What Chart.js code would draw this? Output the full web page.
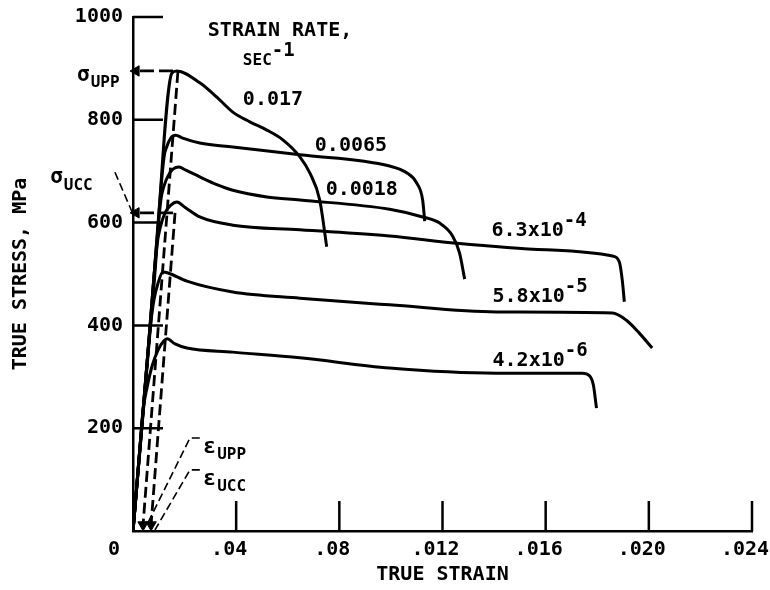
<!DOCTYPE html>
<html>
<head>
<meta charset="utf-8">
<script src="https://cdn.jsdelivr.net/npm/chart.js@4.4.1/dist/chart.umd.min.js"></script>
<style>
  body { margin: 0; background: #fff; }
</style>
</head>
<body>
<canvas id="chart" width="770" height="590"></canvas>
<script>
// true strain / true stress (MPa), one pair per strain rate
var strain017 = [0, 0.00080, 0.00151, 0.00170, 0.00259, 0.00325, 0.00387, 0.00453, 0.00519, 0.00581, 0.00647, 0.00685, 0.00724, 0.00751];
var stress017 = [0, 470, 891, 895, 872, 844, 815, 796, 780, 761, 728, 697, 644, 553];

var strain0065 = [0, 0.00070, 0.00120, 0.00132, 0.00147, 0.00166, 0.00190, 0.00259, 0.00387, 0.00647, 0.00995, 0.01061, 0.01100, 0.01123, 0.01131];
var stress0065 = [0, 420, 726, 749, 765, 770, 765, 755, 747, 732, 710, 697, 677, 644, 603];

var strain0018 = [0, 0.00060, 0.00108, 0.00120, 0.00136, 0.00155, 0.00178, 0.00205, 0.00259, 0.00325, 0.00387, 0.00519, 0.00647, 0.00995, 0.01123, 0.01189, 0.01239, 0.01266, 0.01286];
var stress0018 = [0, 360, 644, 671, 691, 704, 708, 702, 689, 674, 663, 650, 644, 626, 611, 599, 574, 541, 490];

var strain63e4 = [0, 0.00055, 0.00093, 0.00105, 0.00124, 0.00147, 0.00170, 0.00201, 0.00259, 0.00387, 0.00647, 0.00995, 0.01255, 0.01603, 0.01859, 0.01886, 0.01897, 0.01905];
var stress63e4 = [0, 330, 556, 589, 619, 634, 640, 630, 611, 595, 586, 574, 560, 547, 535, 523, 488, 446];

var strain58e5 = [0, 0.00040, 0.00066, 0.00081, 0.00097, 0.00116, 0.00136, 0.00209, 0.00387, 0.00647, 0.00995, 0.01409, 0.01859, 0.01913, 0.01963, 0.02013];
var stress58e5 = [0, 235, 391, 449, 482, 504, 502, 486, 465, 453, 440, 426, 424, 410, 385, 356];

var strain42e6 = [0, 0.00025, 0.00039, 0.00054, 0.00074, 0.00097, 0.00120, 0.00132, 0.00163, 0.00209, 0.00387, 0.00647, 0.00995, 0.01409, 0.01742, 0.01770, 0.01785, 0.01793, 0.01797];
var stress42e6 = [0, 150, 235, 278, 321, 352, 370, 374, 364, 356, 348, 337, 317, 307, 307, 302, 284, 255, 239];

// dashed elastic lines down to eps_UPP / eps_UCC
var strainUpp = [0.00174, 0.00039];
var stressUpp = [893, 12];
var strainUcc = [0.00163, 0.00070];
var stressUcc = [619, 12];

// sigma arrows pointing at the stress axis
var sigmaUppStrain = [0.00155, 0.00012];
var sigmaUppStress = [895, 895];
var sigmaUccStrain = [0.00155, 0.00012];
var sigmaUccStress = [619, 619];

// label leaders
var leadSigmaStrain = [-0.00101, -0.00070, -0.00004];
var leadSigmaStress = [698, 698, 621];
var leadEpsUppStrain = [0.00259, 0.00221, 0.00058];
var leadEpsUppStress = [181, 181, 16];
var leadEpsUccStrain = [0.00259, 0.00221, 0.00085];
var leadEpsUccStress = [119, 119, 2];

var strainTickLabels = ['0  ', '.04', '.08', '.012', '.016', '.020', '.024'];
var stressTickLabels = ['', '200', '400', '600', '800', '1000'];

// text notes, anchored in data units (left edge, vertical middle)
var notes = [
  { text: 'STRAIN RATE,', x: 0.00290, y: 973 },
  { text: 'SEC', sup: '-1', x: 0.00426, y: 914, size: 16 },
  { text: '0.017', x: 0.00426, y: 838 },
  { text: '0.0065', x: 0.00705, y: 749 },
  { text: '0.0018', x: 0.00747, y: 663 },
  { text: '6.3x10', sup: '-4', x: 0.01390, y: 584 },
  { text: '5.8x10', sup: '-5', x: 0.01394, y: 455 },
  { text: '4.2x10', sup: '-6', x: 0.01394, y: 331 },
  { text: '\u03c3', sub: 'UPP', x: -0.00217, y: 887, size: 21 },
  { text: '\u03c3', sub: 'UCC', x: -0.00321, y: 687, size: 21 },
  { text: '\u03b5', sub: 'UPP', x: 0.00271, y: 163, size: 22 },
  { text: '\u03b5', sub: 'UCC', x: 0.00271, y: 101, size: 22 }
];

var FONT = "'DejaVu Sans Mono', monospace";

function pts(xs, ys) {
  return xs.map(function (v, i) { return { x: v, y: ys[i] }; });
}

function curve(xs, ys) {
  return { data: pts(xs, ys), borderColor: '#000', borderWidth: 3, pointRadius: 0, cubicInterpolationMode: 'monotone' };
}

function arrow(xs, ys, rot, dash) {
  return {
    data: pts(xs, ys), borderColor: '#000', borderWidth: 2.8, borderDash: dash,
    tension: 0, clip: false,
    pointStyle: 'triangle', pointRadius: [0, 6], pointRotation: [0, rot],
    pointBackgroundColor: '#000', pointBorderColor: '#000', pointBorderWidth: 1
  };
}

function leader(xs, ys) {
  return { data: pts(xs, ys), borderColor: '#000', borderWidth: 1.6, borderDash: [8, 4], pointRadius: 0, tension: 0, clip: false };
}

var extras = {
  id: 'extras',
  afterDraw: function (chart) {
    var ctx = chart.ctx, xs = chart.scales.x, ys = chart.scales.y, area = chart.chartArea;
    ctx.save();
    // inward tick marks
    ctx.strokeStyle = '#000';
    ctx.lineWidth = 2.5;
    ctx.beginPath();
    xs.ticks.forEach(function (t, i) {
      if (i === 0) return;
      var px = xs.getPixelForTick(i);
      ctx.moveTo(px, area.bottom);
      ctx.lineTo(px, area.bottom - 30);
    });
    ys.ticks.forEach(function (t, i) {
      if (i === 0) return;
      var py = ys.getPixelForTick(i);
      ctx.moveTo(area.left, py);
      ctx.lineTo(area.left + 30, py);
    });
    ctx.stroke();
    // notes
    ctx.fillStyle = '#000';
    ctx.textBaseline = 'middle';
    ctx.textAlign = 'left';
    notes.forEach(function (n) {
      var px = xs.getPixelForValue(n.x), py = ys.getPixelForValue(n.y);
      ctx.font = 'bold ' + (n.size || 20) + 'px ' + FONT;
      ctx.fillText(n.text, px, py);
      var w = ctx.measureText(n.text).width;
      if (n.sup) {
        ctx.font = 'bold 19px ' + FONT;
        ctx.fillText(n.sup, px + w, py - 10);
      }
      if (n.sub) {
        ctx.font = 'bold 16px ' + FONT;
        ctx.fillText(n.sub, px + w + 1, py + 8);
      }
    });
    ctx.restore();
  }
};

Chart.defaults.font.family = FONT;
Chart.defaults.font.size = 20;
Chart.defaults.font.weight = 'bold';
Chart.defaults.color = '#000';

new Chart(document.getElementById('chart').getContext('2d'), {
  type: 'line',
  data: {
    datasets: [
      curve(strain017, stress017),
      curve(strain0065, stress0065),
      curve(strain0018, stress0018),
      curve(strain63e4, stress63e4),
      curve(strain58e5, stress58e5),
      curve(strain42e6, stress42e6),
      arrow(strainUpp, stressUpp, 180, [11, 5]),
      arrow(strainUcc, stressUcc, 180, [11, 5]),
      arrow(sigmaUppStrain, sigmaUppStress, 270, [14, 5]),
      arrow(sigmaUccStrain, sigmaUccStress, 270, [14, 5]),
      leader(leadSigmaStrain, leadSigmaStress),
      leader(leadEpsUppStrain, leadEpsUppStress),
      leader(leadEpsUccStrain, leadEpsUccStress)
    ]
  },
  options: {
    responsive: false,
    animation: false,
    layout: { padding: { left: 0, right: 18, top: 17, bottom: 0 } },
    plugins: { legend: { display: false }, tooltip: { enabled: false } },
    scales: {
      x: {
        type: 'linear',
        min: 0,
        max: 0.024,
        grid: { display: false, drawTicks: false },
        border: { display: true, color: '#000', width: 2.5 },
        ticks: {
          stepSize: 0.004,
          padding: 7,
          labelOffset: -7,
          maxRotation: 0,
          callback: function (v, i) { return strainTickLabels[i]; }
        },
        title: { display: true, text: 'TRUE STRAIN', padding: { top: 0, bottom: 3 } },
        afterFit: function (s) { s.height = 59; s.paddingLeft = 0; s.paddingRight = 0; }
      },
      y: {
        min: 0,
        max: 1000,
        grid: { display: false, drawTicks: false },
        border: { display: true, color: '#000', width: 2.5 },
        ticks: {
          stepSize: 200,
          padding: 10,
          callback: function (v, i) { return stressTickLabels[i]; }
        },
        title: { display: true, text: 'TRUE STRESS, MPa', padding: { top: 9, bottom: 0 } },
        afterFit: function (s) { s.width = 133; s.paddingTop = 0; s.paddingBottom = 0; }
      }
    }
  },
  plugins: [extras]
});
</script>
</body>
</html>
